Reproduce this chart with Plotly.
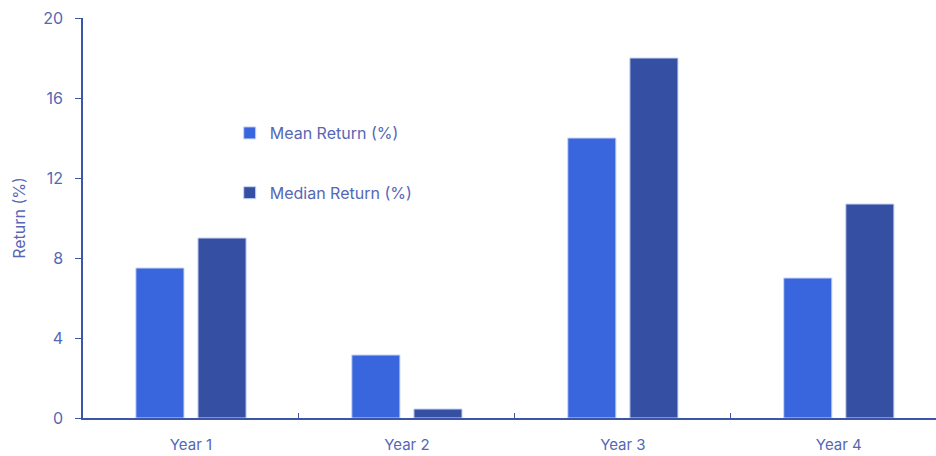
import plotly.graph_objects as go

# Data
years = ["Year 1", "Year 2", "Year 3", "Year 4"]
mean_return = [7.5, 3.15, 14.0, 7.0]
median_return = [9.0, 0.45, 18.0, 10.7]
y_ticks = [0, 4, 8, 12, 16, 20]

MEAN_COLOR = "#3966DD"
MEDIAN_COLOR = "#3550A3"
AXIS_COLOR = "#3D55A8"
TEXT_COLOR = "#5567B5"
FONT = "Inter, 'Noto Sans', sans-serif"

fig = go.Figure()
fig.add_trace(go.Bar(
    name="Mean Return (%)", x=years, y=mean_return,
    marker=dict(color=MEAN_COLOR, line=dict(color="#c9d5f6", width=1)),
    legendgroup="mean",
))
fig.add_trace(go.Bar(
    name="Median Return (%)", x=years, y=median_return,
    marker=dict(color=MEDIAN_COLOR, line=dict(color="#c9d5f6", width=1)),
    legendgroup="median",
))

fig.update_layout(
    width=936, height=456,
    margin=dict(l=83, r=0, t=18, b=38),
    paper_bgcolor="white", plot_bgcolor="white",
    font=dict(family=FONT, size=16, color=TEXT_COLOR),
    barmode="group", bargap=0.425, bargroupgap=0.225,
    showlegend=True,
    legend=dict(
        x=0.172, y=0.755, xanchor="left", yanchor="top",
        bgcolor="rgba(0,0,0,0)", tracegroupgap=36,
        traceorder="grouped",
        font=dict(family=FONT, size=16, color=TEXT_COLOR),
    ),
    xaxis=dict(
        range=[-0.5, 3.45],
        showline=True, linecolor=AXIS_COLOR, linewidth=1.5,
        ticks="inside", tickcolor=AXIS_COLOR, ticklen=5,
        tickson="boundaries",
        showgrid=False, zeroline=False,
        ticklabelstandoff=12,
        tickfont=dict(size=15, color=TEXT_COLOR),
    ),
    yaxis=dict(
        range=[0, 20], tickvals=y_ticks,
        showline=True, linecolor=AXIS_COLOR, linewidth=1.5,
        ticks="outside", tickcolor=AXIS_COLOR, ticklen=6,
        showgrid=False, zeroline=False,
        ticklabelstandoff=9,
        title=dict(text="Return (%)", standoff=14,
                   font=dict(size=16, color=TEXT_COLOR)),
        tickfont=dict(size=16, color=TEXT_COLOR),
    ),
)

fig.write_html("out.html")
